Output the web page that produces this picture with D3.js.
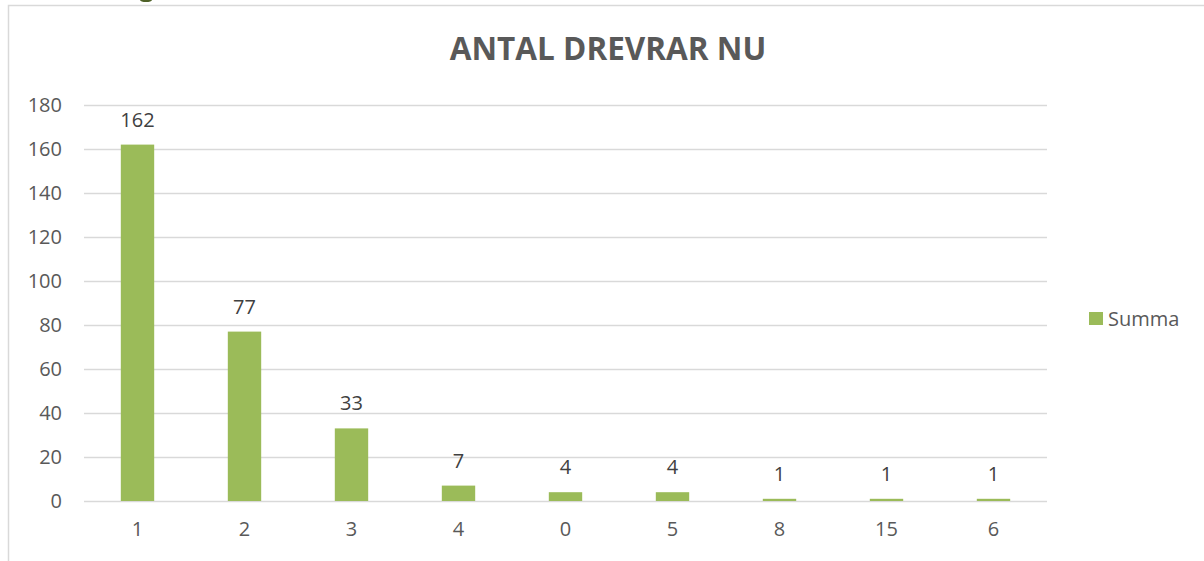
<!DOCTYPE html>
<html>
<head>
<meta charset="utf-8">
<script src="https://cdn.jsdelivr.net/npm/d3@7"></script>
<style>
  body { margin: 0; background: #fff; }
  svg { display: block; }
</style>
</head>
<body>
<svg id="chart" width="1204" height="561"></svg>
<script>
// data
var categories = ["1", "2", "3", "4", "0", "5", "8", "15", "6"];
var values = [162, 77, 33, 7, 4, 4, 1, 1, 1];
var yTicks = [0, 20, 40, 60, 80, 100, 120, 140, 160, 180];
var seriesName = "Summa";
var title = "ANTAL DREVRAR NU";

var svg = d3.select("#chart");
var font = "'Open Sans', sans-serif";

// cadre du graphique
svg.append("path")
    .attr("d", "M8.5,561 L8.5,5.5 L1204,5.5")
    .attr("fill", "none")
    .attr("stroke", "#d9d9d9")
    .attr("stroke-width", 1.5);

// petit reste vert en haut
svg.append("ellipse")
    .attr("cx", 146).attr("cy", 0).attr("rx", 6).attr("ry", 2)
    .attr("fill", "#4f6228");

var plot = { left: 84, right: 1047, top: 105, bottom: 501 };

var x = d3.scaleBand()
    .domain(categories)
    .range([plot.left, plot.right])
    .paddingInner(0.688)
    .paddingOuter(0.344);

var y = d3.scaleLinear()
    .domain([0, 180])
    .range([plot.bottom, plot.top]);

// gridlines
svg.append("g")
    .selectAll("line")
    .data(yTicks)
    .enter().append("line")
    .attr("x1", plot.left)
    .attr("x2", plot.right)
    .attr("y1", function(d){ return y(d) + 0.5; })
    .attr("y2", function(d){ return y(d) + 0.5; })
    .attr("stroke", "#d9d9d9")
    .attr("stroke-width", 1.3);

// y axis labels
var yAxis = d3.axisLeft(y).tickValues(yTicks).tickSize(0).tickPadding(22);
svg.append("g")
    .attr("transform", "translate(" + plot.left + ",0)")
    .call(yAxis)
    .call(function(g){ g.select(".domain").remove(); })
    .selectAll("text")
    .attr("font-family", font)
    .attr("font-size", "20px")
    .attr("fill", "#595959");

// x axis labels
var xAxis = d3.axisBottom(x).tickSize(0).tickPadding(21);
svg.append("g")
    .attr("transform", "translate(0," + plot.bottom + ")")
    .call(xAxis)
    .call(function(g){ g.select(".domain").remove(); })
    .selectAll("text")
    .attr("font-family", font)
    .attr("font-size", "20px")
    .attr("fill", "#595959");

// bars
svg.append("g")
    .selectAll("rect")
    .data(values)
    .enter().append("rect")
    .attr("x", function(d, i){ return x(categories[i]); })
    .attr("width", x.bandwidth())
    .attr("y", function(d){ return y(d); })
    .attr("height", function(d){ return y(0) - y(d); })
    .attr("fill", "#9bbb59");

// data labels
svg.append("g")
    .selectAll("text")
    .data(values)
    .enter().append("text")
    .attr("x", function(d, i){ return x(categories[i]) + x.bandwidth() / 2; })
    .attr("y", function(d){ return y(d) - 18; })
    .attr("text-anchor", "middle")
    .attr("font-family", font)
    .attr("font-size", "20px")
    .attr("fill", "#404040")
    .text(function(d){ return d; });

// title
svg.append("text")
    .attr("x", 608)
    .attr("y", 60)
    .attr("text-anchor", "middle")
    .attr("font-family", font)
    .attr("font-size", "31.5px")
    .attr("font-weight", "bold")
    .attr("fill", "#595959")
    .text(title);

// legend
svg.append("rect")
    .attr("x", 1089).attr("y", 312)
    .attr("width", 14).attr("height", 13)
    .attr("fill", "#9bbb59");
svg.append("text")
    .attr("x", 1108).attr("y", 326)
    .attr("font-family", font)
    .attr("font-size", "20px")
    .attr("fill", "#595959")
    .text(seriesName);
</script>
</body>
</html>
